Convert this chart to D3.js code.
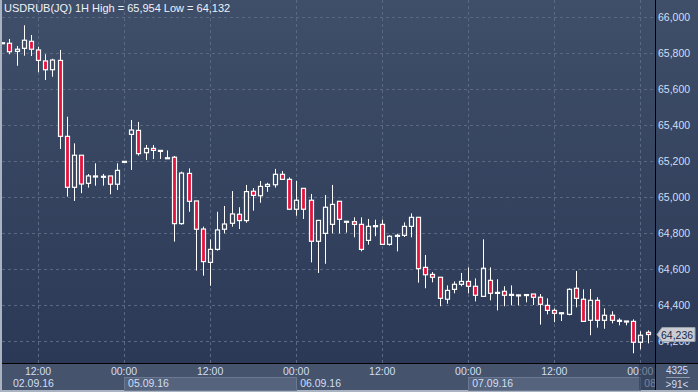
<!DOCTYPE html>
<html>
<head>
<meta charset="utf-8">
<script src="https://cdn.jsdelivr.net/npm/d3@7"></script>
<style>
  body { margin: 0; background: #2b3955; }
  svg { display: block; font-family: "Liberation Sans", Arial, sans-serif; }
</style>
</head>
<body>
<div id="chart"></div>
<script>
// hourly candles, 02.09.16 07:00 .. 08.09.16 01:00
var opens  = [65857,65854,65809,65826,65865,65817,65756,65707,65759,65337,65054,65232,65076,65111,65115,65117,65071,
              65198,65348,65370,65246,65270,65254,65218,65221,64852,65131,64978,64822,64637,64709,64821,64854,64904,64869,65032,65007,65059,65068,65126,65098,
              64932,65048,64982,64754,64798,64848,64976,64865,64863,64848,64759,64835,64848,64737,64782,64787,64837,64887,64609,64570,64554,64432,64487,64515,
              64531,64504,64448,64537,64465,64476,64454,64454,64456,64461,64443,64398,64370,64356,64348,64493,64432,64315,64426,64315,64343,64315,64311,64309,
              64193,64248]
var highs  = [65860,65878,65839,65954,65900,65835,65793,65768,65817,65446,65298,65232,65128,65187,65128,65117,65187,
              65198,65428,65417,65289,65289,65259,65259,65228,65141,65159,64978,64835,64765,64918,64950,65033,64943,65067,65050,65089,65079,65156,65144,65109,
              65089,65048,65017,64870,65011,65067,64976,64865,64887,64887,64878,64874,64874,64787,64796,64859,64909,64887,64678,64583,64554,64509,64531,64578,
              64609,64548,64765,64609,64543,64504,64509,64459,64461,64461,64461,64437,64381,64359,64493,64589,64487,64489,64443,64381,64365,64326,64311,64320,
              64254,64259]
var lows   = [65855,65793,65729,65785,65783,65693,65650,65668,65267,65002,64978,65021,65052,65063,65063,65015,65039,
              65198,65150,65230,65206,65211,65211,65218,64752,64846,64918,64591,64563,64507,64702,64798,64835,64822,64857,64924,64968,65029,65052,65098,64932,
              64896,64878,64637,64578,64629,64798,64798,64802,64776,64698,64735,64782,64737,64730,64698,64778,64776,64524,64493,64526,64393,64407,64465,64504,
              64465,64420,64448,64426,64370,64393,64398,64398,64415,64400,64291,64348,64304,64311,64343,64387,64309,64232,64274,64268,64298,64287,64287,64132,
              64154,64187]
var closes = [65857,65807,65821,65871,65821,65759,65707,65761,65337,65054,65232,65072,65117,65117,65115,65071,65148,
              65198,65372,65241,65270,65259,65259,65218,64852,65133,64976,64821,64641,64709,64817,64850,64906,64869,65030,65009,65059,65070,65126,65098,64932,
              64982,64932,64754,64870,64943,64959,64876,64865,64848,64709,64837,64841,64737,64782,64787,64837,64887,64602,64568,64554,64437,64481,64515,64531,
              64504,64454,64604,64465,64470,64454,64459,64456,64458,64443,64404,64370,64354,64357,64487,64437,64309,64426,64315,64343,64315,64309,64306,64193,
              64232,64236]

var priceTicks = [64200,64400,64600,64800,65000,65200,65400,65600,65800,66000]
var timeTickIdx = [5,17,29,41,53,65,77,89]
var timeTickLabels = ["12:00","00:00","12:00","00:00","12:00","00:00","12:00","00:00"]
var dayStartIdx = [-7,17,41,65,89]
var dayLabels = ["02.09.16","05.09.16","06.09.16","07.09.16","08.09.16"]

var title = "USDRUB(JQ) 1H High = 65,954 Low = 64,132"
var lastPrice = "64,236"

var W = 698, H = 392
var plotRight = 655, plotBottom = 363

var svg = d3.select("#chart").append("svg")
            .attr("width", W)
            .attr("height", H)

var defs = svg.append("defs")
var grad = defs.append("linearGradient").attr("id", "bg").attr("x1", 0).attr("y1", 0).attr("x2", 0).attr("y2", 1)
grad.append("stop").attr("offset", "0%").attr("stop-color", "#3f4e69")
grad.append("stop").attr("offset", "100%").attr("stop-color", "#2b3956")
defs.append("clipPath").attr("id", "plotclip")
    .append("rect").attr("x", 2).attr("y", 0).attr("width", plotRight - 2).attr("height", plotBottom)
defs.append("clipPath").attr("id", "axisclip")
    .append("rect").attr("x", 2).attr("y", plotBottom).attr("width", plotRight - 2).attr("height", H - plotBottom)

svg.append("rect").attr("width", W).attr("height", plotBottom).style("fill", "url(#bg)")
svg.append("rect").attr("y", plotBottom).attr("width", W).attr("height", H - plotBottom).style("fill", "#46536d")

var x = d3.scaleLinear().domain([0, 90]).range([2.2, 647.5])
var y = d3.scaleLinear().domain([64200, 66000]).range([341, 17])

// grid
var grid = svg.append("g").attr("clip-path", "url(#plotclip)")
grid.selectAll(".hgrid")
    .data(priceTicks)
    .enter().append("line")
    .attr("x1", 2).attr("x2", plotRight)
    .attr("y1", function(d) { return Math.round(y(d)) + 0.5 })
    .attr("y2", function(d) { return Math.round(y(d)) + 0.5 })
    .style("stroke", "#5a6883").style("stroke-dasharray", "3,3")
grid.selectAll(".vgrid")
    .data(timeTickIdx)
    .enter().append("line")
    .attr("x1", function(d) { return Math.round(x(d)) + 0.5 })
    .attr("x2", function(d) { return Math.round(x(d)) + 0.5 })
    .attr("y1", 0).attr("y2", plotBottom)
    .style("stroke", "#5a6883").style("stroke-dasharray", "3,3")

// candles
var candles = d3.range(opens.length).map(function(i) {
    return { i: i, o: opens[i], h: highs[i], l: lows[i], c: closes[i] }
})
var bw = 4
var cg = svg.append("g").attr("clip-path", "url(#plotclip)")
var c = cg.selectAll(".candle")
          .data(candles)
          .enter().append("g")
          .attr("class", "candle")
          .attr("transform", function(d) { return "translate(" + (Math.round(x(d.i)) + 0.5) + ",0)" })

c.append("line")
    .attr("x1", 0).attr("x2", 0)
    .attr("y1", function(d) { return y(d.h) })
    .attr("y2", function(d) { return y(Math.max(d.o, d.c)) })
    .style("stroke", "#ffffff")
c.append("line")
    .attr("x1", 0).attr("x2", 0)
    .attr("y1", function(d) { return y(Math.min(d.o, d.c)) })
    .attr("y2", function(d) { return y(d.l) })
    .style("stroke", "#ffffff")
c.append("rect")
    .attr("x", -bw / 2)
    .attr("y", function(d) { return y(Math.max(d.o, d.c)) })
    .attr("width", bw)
    .attr("height", function(d) { return Math.max(1, y(Math.min(d.o, d.c)) - y(Math.max(d.o, d.c))) })
    .style("fill", function(d) { return d.c < d.o ? "#e3143d" : "none" })
    .style("stroke", "#ffffff")
    .style("stroke-width", 1.2)

// frame lines
svg.append("line").attr("x1", plotRight + 0.5).attr("x2", plotRight + 0.5).attr("y1", 0).attr("y2", H)
    .style("stroke", "#000000")
svg.append("line").attr("x1", 0).attr("x2", W).attr("y1", plotBottom + 0.5).attr("y2", plotBottom + 0.5)
    .style("stroke", "#000000")
svg.append("rect").attr("x", 0).attr("y", 0).attr("width", 2).attr("height", H).style("fill", "#aab3c2")
svg.append("rect").attr("x", 0).attr("y", H - 2).attr("width", W).attr("height", 2).style("fill", "#aab3c2")

// price axis
svg.selectAll(".plabel")
    .data(priceTicks)
    .enter().append("text")
    .attr("x", 658)
    .attr("y", function(d) { return y(d) + 4 })
    .attr("font-size", 10.5)
    .style("fill", "#cfdff5")
    .text(function(d) { return d3.format(",")(d) })

// last price tag
var ly = y(64236)
svg.append("path")
    .attr("d", "M657," + ly + " L662," + (ly - 7) + " L695," + (ly - 7) + " L695," + (ly + 7) + " L662," + (ly + 7) + " Z")
    .style("fill", "#c9cdd3").style("stroke", "#9aa1ab")
svg.append("text")
    .attr("x", 661).attr("y", ly + 4)
    .attr("font-size", 10.5)
    .style("fill", "#1c2a48")
    .text(lastPrice)

// time axis
var ax = svg.append("g").attr("clip-path", "url(#axisclip)")
ax.selectAll(".daybox")
    .data(dayStartIdx.filter(function(d, i) { return i % 2 == 1 }))
    .enter().append("rect")
    .attr("x", function(d) { return Math.round(x(d)) + 0.5 })
    .attr("y", 377.5)
    .attr("width", function(d) { return Math.round(x(d + 24)) - Math.round(x(d)) })
    .attr("height", 13)
    .style("fill", "#56637c").style("stroke", "#6b7892")
ax.selectAll(".tlabel")
    .data(timeTickIdx)
    .enter().append("text")
    .attr("x", function(d) { return x(d) })
    .attr("y", 375)
    .attr("font-size", 10.5)
    .style("text-anchor", "middle")
    .style("fill", "#cfdff5")
    .text(function(d, i) { return timeTickLabels[i] })
ax.selectAll(".dlabel")
    .data(dayStartIdx)
    .enter().append("text")
    .attr("x", function(d) { return Math.max(13, x(d) + 4) })
    .attr("y", 387)
    .attr("font-size", 10.5)
    .style("fill", "#cfdff5")
    .text(function(d, i) { return dayLabels[i] })
ax.append("rect")
    .attr("x", 639).attr("y", plotBottom + 1).attr("width", plotRight - 639).attr("height", H - plotBottom - 3)
    .style("fill", "#2c3850").style("opacity", 0.55)

// corner info
svg.append("text").attr("x", 677).attr("y", 374).attr("font-size", 10)
    .style("text-anchor", "middle").style("fill", "#cfdff5").text("4325")
svg.append("line").attr("x1", 666).attr("x2", 690).attr("y1", 377.5).attr("y2", 377.5)
    .style("stroke", "#8c97aa")
svg.append("text").attr("x", 677).attr("y", 388).attr("font-size", 10)
    .style("text-anchor", "middle").style("fill", "#cfdff5").text(">91<")

// title
svg.append("text")
    .attr("x", 4).attr("y", 12)
    .attr("font-size", 11)
    .style("fill", "#eef2f8")
    .text(title)
</script>
</body>
</html>
